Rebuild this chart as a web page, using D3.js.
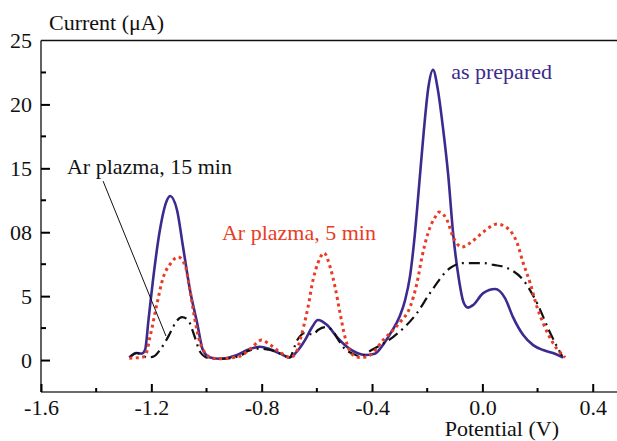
<!DOCTYPE html>
<html>
<head>
<meta charset="utf-8">
<script src="https://cdn.jsdelivr.net/npm/d3@7"></script>
<style>
  html, body { margin: 0; padding: 0; background: #fff; }
  svg { display: block; }
  svg text { font-family: "Liberation Serif", "Times New Roman", Times, "DejaVu Serif", serif !important; }
</style>
</head>
<body>
<svg id="chart" width="617" height="441"></svg>
<script>
// ---------- data ----------
const asPreparedV = [-1.28,-1.255,-1.235,-1.223,-1.21,-1.194,-1.169,-1.143,-1.132,-1.107,-1.085,-1.06,-1.034,-1.013,-0.987,-0.95,-0.889,-0.85,-0.806,-0.77,-0.733,-0.7,-0.675,-0.643,-0.617,-0.596,-0.563,-0.527,-0.49,-0.454,-0.425,-0.39,-0.36,-0.33,-0.3,-0.28,-0.262,-0.245,-0.228,-0.212,-0.196,-0.179,-0.161,-0.143,-0.124,-0.106,-0.085,-0.068,-0.052,-0.034,0.003,0.046,0.082,0.111,0.148,0.184,0.22,0.256,0.293];
const asPreparedI = [0.2,0.55,0.5,0.78,3.2,6.26,10.17,12.52,12.83,11.74,8.84,5.48,2.9,0.78,0.2,0.1,0.39,0.8,1.04,0.85,0.5,0.2,0.6,1.56,2.58,3.13,2.74,1.8,1.02,0.55,0.39,0.5,1.2,2.2,3.4,4.7,6.6,9.8,14.0,18.0,21.3,22.7,21.1,18.2,14.5,9.9,6.3,4.5,4.1,4.3,5.24,5.56,4.85,3.36,1.96,1.17,0.78,0.55,0.2];

const plasma5V = [-1.28,-1.24,-1.223,-1.205,-1.179,-1.158,-1.132,-1.103,-1.078,-1.06,-1.042,-1.023,-1.005,-0.98,-0.95,-0.88,-0.84,-0.8,-0.77,-0.733,-0.697,-0.675,-0.661,-0.632,-0.614,-0.596,-0.574,-0.552,-0.534,-0.516,-0.498,-0.469,-0.44,-0.407,-0.36,-0.298,-0.262,-0.237,-0.219,-0.197,-0.171,-0.157,-0.128,-0.106,-0.074,-0.045,0.003,0.053,0.09,0.126,0.148,0.173,0.198,0.22,0.256,0.3];
const plasma5I = [0.15,0.2,0.3,1.8,4.46,6.4,7.5,8.06,7.43,5.48,3.13,1.33,0.55,0.16,0.1,0.3,0.9,1.56,1.2,0.6,0.2,0.6,1.56,4.15,6.26,7.59,8.37,7.28,5.71,3.68,1.8,0.39,0.2,0.39,1.56,2.97,4.15,6.03,8.06,9.94,11.19,11.58,10.95,9.62,8.84,9.15,10.02,10.64,10.33,9.15,7.59,6.03,4.15,2.9,1.33,0.2];

const plasma15V = [-1.277,-1.252,-1.23,-1.212,-1.19,-1.169,-1.15,-1.132,-1.111,-1.089,-1.067,-1.045,-1.023,-0.994,-0.95,-0.88,-0.85,-0.813,-0.77,-0.733,-0.7,-0.67,-0.645,-0.614,-0.596,-0.57,-0.545,-0.523,-0.5,-0.47,-0.443,-0.4,-0.324,-0.237,-0.19,-0.117,-0.07,0.003,0.04,0.09,0.148,0.198,0.246,0.289];
const plasma15I = [0.23,0.55,0.3,0.2,0.3,0.78,1.4,2.11,2.97,3.36,3.13,1.96,0.63,0.16,0.1,0.3,0.7,0.9,0.8,0.5,0.2,1.6,2.1,2.0,2.35,2.58,2.35,1.6,0.9,0.5,0.3,0.8,1.8,3.68,5.24,7.2,7.59,7.59,7.45,7.2,6.26,4.46,2.11,0.31];

const yTickValues = [0, 5, 10, 15, 20];
const yTickLabels = ["0", "5", "08", "15", "20"];
const yTopLabel = "25";
const yMinorTicks = [2.5, 7.5, 12.5, 17.5, 22.5];
const xTickValues = [-1.6, -1.2, -0.8, -0.4, 0.0, 0.4];
const xTickLabels = ["-1.6", "-1.2", "-0.8", "-0.4", "0.0", "0.4"];
const xMinorTicks = [-1.4, -1.0, -0.6, -0.2, 0.2];

// annotation anchors in data units
const labelAsPrepared = { v: -0.113, i: 22.0, text: "as prepared" };
const label5 = { v: -0.944, i: 9.39, text: "Ar plazma, 5 min" };
const label15 = { v: -1.506, i: 14.55, text: "Ar plazma, 15 min" };
const leader15 = [[-1.375, 14.0], [-1.147, 1.88]];

// ---------- drawing ----------
const FONT = "'Liberation Serif', 'Times New Roman', Times, 'DejaVu Serif', serif";
const svg = d3.select("#chart").attr("font-family", FONT).style("font-family", FONT);
const L = 41, T = 40.5, B = 392, Rpx = 617;
const x = d3.scaleLinear().domain([-1.6, 0.488]).range([L, Rpx]);
const y = d3.scaleLinear().domain([-2.5, 25]).range([B, T]);

const FS = 22;
const axisColor = "#3a3a3a";

// frame lines
svg.append("line").attr("x1", L).attr("x2", L).attr("y1", T).attr("y2", B)
  .attr("stroke", axisColor).attr("stroke-width", 1.6);
svg.append("line").attr("x1", L).attr("x2", Rpx).attr("y1", T).attr("y2", T)
  .attr("stroke", "#111").attr("stroke-width", 1.4);
svg.append("line").attr("x1", L).attr("x2", Rpx).attr("y1", B).attr("y2", B)
  .attr("stroke", axisColor).attr("stroke-width", 1.6);

// y axis
const yAxis = d3.axisLeft(y).tickValues(yTickValues)
  .tickFormat((d, i) => yTickLabels[i]).tickSize(-9).tickPadding(9);
const gy = svg.append("g").attr("transform", `translate(${L},0)`).call(yAxis)
  .attr("font-family", FONT).attr("font-size", FS);
gy.select(".domain").remove();
gy.selectAll(".tick line").attr("stroke", "#000").attr("stroke-width", 2);
gy.selectAll(".tick text").attr("fill", "#111");
gy.selectAll(".minor").data(yMinorTicks).enter().append("line")
  .attr("x1", 0).attr("x2", 5).attr("y1", d => y(d)).attr("y2", d => y(d))
  .attr("stroke", "#000").attr("stroke-width", 2);
svg.append("text").attr("x", L - 9).attr("y", y(25)).attr("dy", "0.32em")
  .attr("text-anchor", "end").attr("font-size", FS).attr("fill", "#111").text(yTopLabel);

// x axis
const xAxis = d3.axisBottom(x).tickValues(xTickValues)
  .tickFormat((d, i) => xTickLabels[i]).tickSize(-8).tickPadding(7);
const gx = svg.append("g").attr("transform", `translate(0,${B})`).call(xAxis)
  .attr("font-family", FONT).attr("font-size", FS);
gx.select(".domain").remove();
gx.selectAll(".tick line").attr("stroke", "#000").attr("stroke-width", 2);
gx.selectAll(".tick text").attr("fill", "#111");
gx.selectAll(".minor").data(xMinorTicks).enter().append("line")
  .attr("x1", d => x(d)).attr("x2", d => x(d)).attr("y1", 0).attr("y2", -4)
  .attr("stroke", "#000").attr("stroke-width", 2);

// axis titles
svg.append("text").attr("x", 49).attr("y", 30).attr("font-size", FS).attr("fill", "#111")
  .text("Current (\u03bcA)");
svg.append("text").attr("x", 559).attr("y", 435.5).attr("text-anchor", "end")
  .attr("font-size", FS).attr("fill", "#111").text("Potential (V)");

// curves
const line = d3.line().x(d => x(d[0])).y(d => y(d[1])).curve(d3.curveMonotoneX);
const zip = (a, b) => a.map((v, i) => [v, b[i]]);

svg.append("path").datum(zip(asPreparedV, asPreparedI)).attr("d", line)
  .attr("fill", "none").attr("stroke", "#3c2a8e").attr("stroke-width", 2.6);
svg.append("path").datum(zip(plasma15V, plasma15I)).attr("d", line)
  .attr("fill", "none").attr("stroke", "#111").attr("stroke-width", 2.2)
  .attr("stroke-dasharray", "11,5,2,5");
svg.append("path").datum(zip(plasma5V, plasma5I)).attr("d", line)
  .attr("fill", "none").attr("stroke", "#ea3b24").attr("stroke-width", 3)
  .attr("stroke-dasharray", "3,3.5");

// annotations
svg.append("text").attr("x", x(labelAsPrepared.v)).attr("y", y(labelAsPrepared.i))
  .attr("font-size", FS).attr("fill", "#3c2a8e").text(labelAsPrepared.text);
svg.append("text").attr("x", x(label5.v)).attr("y", y(label5.i))
  .attr("font-size", FS).attr("fill", "#ea3b24").text(label5.text);
svg.append("text").attr("x", x(label15.v)).attr("y", y(label15.i))
  .attr("font-size", FS).attr("fill", "#111").text(label15.text);
svg.append("line")
  .attr("x1", x(leader15[0][0])).attr("y1", y(leader15[0][1]))
  .attr("x2", x(leader15[1][0])).attr("y2", y(leader15[1][1]))
  .attr("stroke", "#111").attr("stroke-width", 1);
</script>
</body>
</html>
